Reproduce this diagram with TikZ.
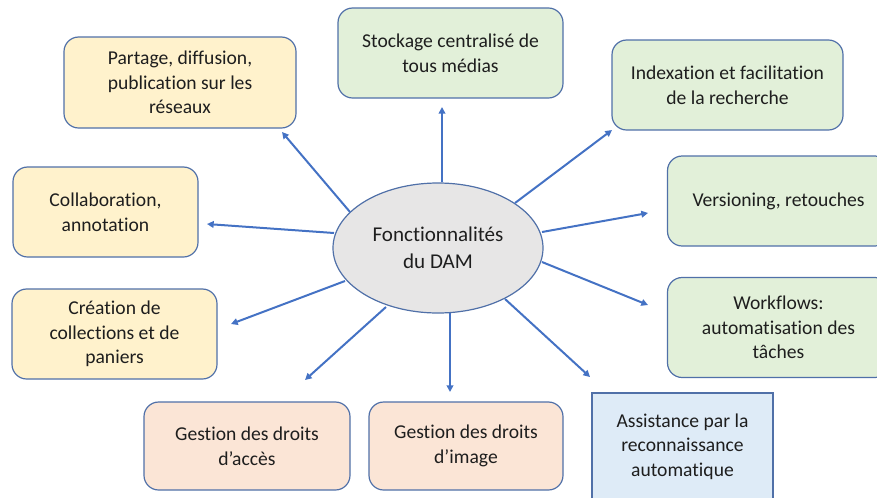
\documentclass[tikz,border=0pt]{standalone}
\usepackage{fontspec}
\setmainfont{Carlito}[Ligatures=CommonOff]
\usetikzlibrary{arrows.meta,shapes.geometric}
\definecolor{boxline}{HTML}{5070A8}
\definecolor{arrowc}{HTML}{4472C4}
\definecolor{yel}{HTML}{FFF2CC}
\definecolor{grn}{HTML}{E2F0D9}
\definecolor{org}{HTML}{FBE5D6}
\definecolor{blu}{HTML}{DEEBF7}
\definecolor{gry}{HTML}{E7E6E6}
\definecolor{txt}{HTML}{1E1E1E}
\tikzset{
  feat/.style={draw=boxline, line width=0.9pt, rounded corners=11pt, align=center, inner sep=0pt,
    text=txt, font=\fontsize{14.7}{18.4}\selectfont},
  sqfeat/.style={draw=boxline, line width=0.9pt, align=center, inner sep=0pt,
    text=txt, font=\fontsize{14.7}{18.4}\selectfont},
  hub/.style={ellipse, draw=boxline, line width=0.9pt, fill=gry, align=center, inner sep=0pt,
    text=txt, font=\fontsize{15.8}{20.2}\selectfont},
  link/.style={draw=arrowc, line width=1.5pt, -{Triangle[length=5pt,width=5pt]}}
}
\begin{document}
\begin{tikzpicture}[x=0.75pt,y=-0.75pt]
\useasboundingbox (0,0) rectangle (877,497);
% hub
\node[hub, minimum width=157.5pt, minimum height=97.5pt] (hub) at (438,248) {Fonctionnalités\\du DAM};
% boxes
\node[feat, fill=yel, minimum width=174pt, minimum height=68.25pt] (partage) at (180,82.5) {Partage, diffusion,\\publication sur les\\réseaux};
\node[feat, fill=grn, minimum width=168.75pt, minimum height=67.5pt] (stock) at (450.5,53) {Stockage centralisé de\\tous médias};
\node[feat, fill=grn, minimum width=173.25pt, minimum height=67.5pt] (index) at (727.5,85) {Indexation et facilitation\\de la recherche};
\node[feat, fill=grn, minimum width=166.5pt, minimum height=67.5pt] (version) at (778.5,201) {Versioning, retouches};
\node[feat, fill=grn, minimum width=166.5pt, minimum height=75pt] (workflow) at (778.5,327.5) {Workflows:\\automatisation des\\tâches};
\node[sqfeat, fill=blu, minimum width=135.75pt, minimum height=80.25pt] (assist) at (682.5,446.5) {Assistance par la\\reconnaissance\\automatique};
\node[feat, fill=org, minimum width=145.5pt, minimum height=66pt] (image) at (466,446) {Gestion des droits\\d’image};
\node[feat, fill=org, minimum width=154.5pt, minimum height=66pt] (acces) at (247,446) {Gestion des droits\\d’accès};
\node[feat, fill=yel, minimum width=153.75pt, minimum height=67.5pt] (creation) at (114.5,334) {Création de\\collections et de\\paniers};
\node[feat, fill=yel, minimum width=138.75pt, minimum height=67.5pt] (collab) at (105.5,212) {Collaboration,\\annotation};
% arrow tips
\coordinate (tStock) at (442,107);
\coordinate (tPart) at (282,132);
\coordinate (tCollab) at (207,224);
\coordinate (tCrea) at (231,324);
\coordinate (tAcces) at (305,380);
\coordinate (tImage) at (450,392);
\coordinate (tAssist) at (590,377);
\coordinate (tWork) at (648,305);
\coordinate (tVers) at (648,213);
\coordinate (tIndex) at (612,130);
% arrows
\draw[link] (hub.north) ++(4,0) -- (tStock);
\draw[link] (hub) ++(-88,-36) -- (tPart);
\draw[link] (hub) ++(-104,-15) -- (tCollab);
\draw[link] (hub) ++(-93,33) -- (tCrea);
\draw[link] (hub) ++(-52,59) -- (tAcces);
\draw[link] (hub) ++(12,65) -- (tImage);
\draw[link] (hub) ++(67,51) -- (tAssist);
\draw[link] (hub) ++(104,14) -- (tWork);
\draw[link] (hub) ++(104,-16) -- (tVers);
\draw[link] (hub) ++(77,-45) -- (tIndex);
\end{tikzpicture}
\end{document}
